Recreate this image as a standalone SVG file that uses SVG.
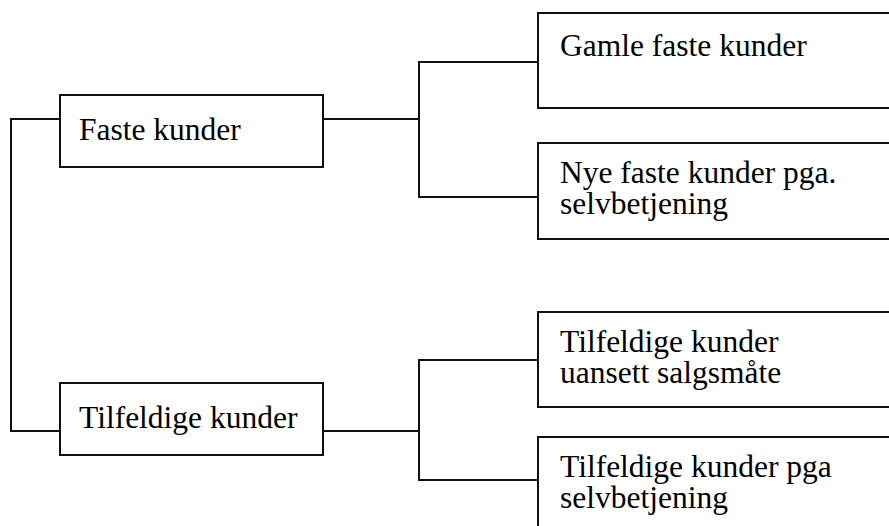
<svg xmlns="http://www.w3.org/2000/svg" width="889" height="526" viewBox="0 0 889 526">
<style>
.box{fill:#fff;stroke:#111;stroke-width:2}
.ln{fill:none;stroke:#111;stroke-width:2}
text{font-family:"Liberation Serif","Times New Roman",serif;font-size:31.5px;fill:#000}
</style>
<rect width="889" height="526" fill="#fff"/>
<g id="connectors">
<polyline class="ln" points="59,119 11,119 11,431 59,431"/>
<line class="ln" x1="323" y1="119" x2="419" y2="119"/>
<polyline class="ln" points="538,62 419,62 419,197 538,197"/>
<line class="ln" x1="323" y1="431" x2="419" y2="431"/>
<polyline class="ln" points="538,360 419,360 419,480 538,480"/>
</g>
<g id="faste"><rect class="box" x="60" y="95" width="263" height="72"/><text x="79" y="140">Faste kunder</text></g>
<g id="tilfeldige"><rect class="box" x="60" y="383" width="263" height="72"/><text x="79" y="428">Tilfeldige kunder</text></g>
<g id="gamle"><rect class="box" x="538" y="13" width="360" height="95"/><text x="560" y="56">Gamle faste kunder</text></g>
<g id="nye"><rect class="box" x="538" y="143" width="360" height="96"/><text x="560" y="183">Nye faste kunder pga.</text><text x="560" y="214">selvbetjening</text></g>
<g id="tilf-uansett"><rect class="box" x="538" y="312" width="360" height="95"/><text x="560" y="352">Tilfeldige kunder</text><text x="560" y="383">uansett salgsmåte</text></g>
<g id="tilf-selv"><rect class="box" x="538" y="437" width="360" height="100"/><text x="560" y="477">Tilfeldige kunder pga</text><text x="560" y="508">selvbetjening</text></g>
</svg>
